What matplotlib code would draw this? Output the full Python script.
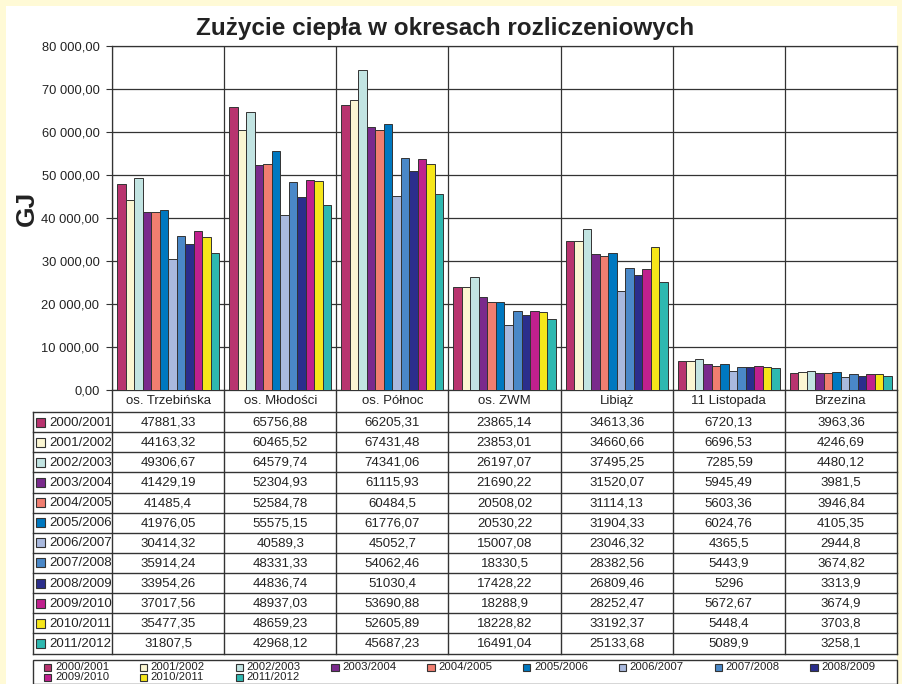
import numpy as np
import matplotlib.pyplot as plt
from matplotlib.patches import Rectangle

plt.rcParams['font.family'] = ['Liberation Sans', 'DejaVu Sans']

# dane
osiedla = ['os. Trzebińska', 'os. Młodości', 'os. Północ', 'os. ZWM', 'Libiąż', '11 Listopada', 'Brzezina']
sezony = ['2000/2001', '2001/2002', '2002/2003', '2003/2004', '2004/2005', '2005/2006',
          '2006/2007', '2007/2008', '2008/2009', '2009/2010', '2010/2011', '2011/2012']
s2000 = [47881.33, 65756.88, 66205.31, 23865.14, 34613.36, 6720.13, 3963.36]
s2001 = [44163.32, 60465.52, 67431.48, 23853.01, 34660.66, 6696.53, 4246.69]
s2002 = [49306.67, 64579.74, 74341.06, 26197.07, 37495.25, 7285.59, 4480.12]
s2003 = [41429.19, 52304.93, 61115.93, 21690.22, 31520.07, 5945.49, 3981.5]
s2004 = [41485.4, 52584.78, 60484.5, 20508.02, 31114.13, 5603.36, 3946.84]
s2005 = [41976.05, 55575.15, 61776.07, 20530.22, 31904.33, 6024.76, 4105.35]
s2006 = [30414.32, 40589.3, 45052.7, 15007.08, 23046.32, 4365.5, 2944.8]
s2007 = [35914.24, 48331.33, 54062.46, 18330.5, 28382.56, 5443.9, 3674.82]
s2008 = [33954.26, 44836.74, 51030.4, 17428.22, 26809.46, 5296, 3313.9]
s2009 = [37017.56, 48937.03, 53690.88, 18288.9, 28252.47, 5672.67, 3674.9]
s2010 = [35477.35, 48659.23, 52605.89, 18228.82, 33192.37, 5448.4, 3703.8]
s2011 = [31807.5, 42968.12, 45687.23, 16491.04, 25133.68, 5089.9, 3258.1]
dane = [s2000, s2001, s2002, s2003, s2004, s2005, s2006, s2007, s2008, s2009, s2010, s2011]

kolory = ['#B8346F', '#FBF6D2', '#C2E4E2', '#7A2A8C', '#F07E70', '#0078C0',
          '#A9B9DE', '#4A88C8', '#2B2E8C', '#C0208E', '#F6E61A', '#2EB8B0']

W, H = 903, 684
fig = plt.figure(figsize=(W / 100, H / 100), dpi=100, facecolor='#FFFAD6')

# nakladka w pikselach (tlo, tabela, legenda)
ov = fig.add_axes([0, 0, 1, 1], zorder=0)
ov.set_xlim(0, W)
ov.set_ylim(H, 0)
ov.axis('off')
ov.add_patch(Rectangle((6, 6), 891, H - 6, facecolor='white', edgecolor='none'))

# obszar wykresu
x0, x1, y0, y1 = 112, 897, 46, 390
ax = fig.add_axes([x0 / W, 1 - y1 / H, (x1 - x0) / W, (y1 - y0) / H], zorder=1)
n = len(osiedla)
x = np.arange(n)
bw = 0.91 / 12
for j, (s, c) in enumerate(zip(dane, kolory)):
    ax.bar(x - 0.455 + bw * (j + 0.5), s, width=bw, color=c, edgecolor='#333333', linewidth=0.7, zorder=3)

ax.set_xlim(-0.5, n - 0.5)
ax.set_ylim(0, 80000)
ax.set_yticks(np.arange(0, 80001, 10000))
ax.set_yticklabels([f"{v:,.2f}".replace(",", " ").replace(".", ",") for v in np.arange(0, 80001, 10000)],
                   fontsize=9.3, color='#222222')
ax.set_xticks(np.arange(-0.5, n, 1))
ax.set_xticklabels([])
ax.tick_params(axis='x', length=0)
ax.tick_params(axis='y', length=4, width=0.8, color='#333333', pad=5)
ax.grid(True, color='#333333', linewidth=0.9, zorder=0)
ax.set_axisbelow(True)
for sp in ax.spines.values():
    sp.set_color('#333333')
    sp.set_linewidth(0.9)

fig.text(445 / W, 1 - 28 / H, 'Zużycie ciepła w okresach rozliczeniowych', ha='center', va='center',
         fontsize=17.5, fontweight='bold', color='#222222')
fig.text(27 / W, 1 - 208 / H, 'GJ', ha='center', va='center', rotation=90,
         fontsize=19, fontweight='bold', color='#222222')

# tabela danych
cw = (x1 - x0) / n
rh = (653.5 - 412) / 12
lc = '#333333'
for i, nazwa in enumerate(osiedla):
    ov.text(x0 + cw * (i + 0.5), 401, nazwa, ha='center', va='center', fontsize=9.5, color='#222222')
for k in range(13):
    yy = 412 + rh * k
    ov.plot([33, x1], [yy, yy], color=lc, lw=1.0)
ov.plot([33, 33], [412, 412 + rh * 12], color=lc, lw=1.0)
for i in range(n + 1):
    ov.plot([x0 + cw * i] * 2, [y1, 412 + rh * 12], color=lc, lw=1.0)
for j, (s, c) in enumerate(zip(dane, kolory)):
    yc = 412 + rh * (j + 0.5)
    ov.add_patch(Rectangle((36, yc - 4.5), 9, 9, facecolor=c, edgecolor='#333333', lw=0.8))
    ov.text(49, yc + 0.5, sezony[j], ha='left', va='center', fontsize=9.5, color='#222222')
    for i, v in enumerate(s):
        ov.text(x0 + cw * (i + 0.5), yc + 0.5, f"{v:.10g}".replace(".", ","), ha='center', va='center',
                fontsize=9.5, color='#222222')

# legenda
ov.add_patch(Rectangle((33, 660), x1 - 33, 23.5, facecolor='none', edgecolor=lc, lw=1.0))
for j, (nazwa, c) in enumerate(zip(sezony, kolory)):
    kol, wiersz = j % 9, j // 9
    lx = 44 + 95.8 * kol
    ly = 667 + 10 * wiersz
    ov.add_patch(Rectangle((lx, ly - 3.5), 7.5, 7.5, facecolor=c, edgecolor='#333333', lw=0.8))
    ov.text(lx + 11, ly + 0.5, nazwa, ha='left', va='center', fontsize=8.2, color='#222222')

fig.savefig('out.png', dpi=100, facecolor=fig.get_facecolor())
